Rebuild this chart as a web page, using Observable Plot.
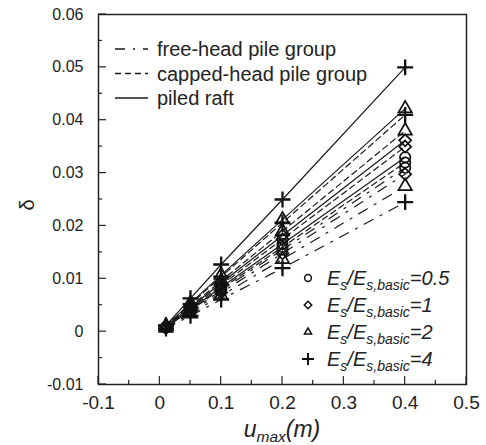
<!DOCTYPE html>
<html><head><meta charset="utf-8">
<script src="https://cdn.jsdelivr.net/npm/d3@7"></script>
<script src="https://cdn.jsdelivr.net/npm/@observablehq/plot@0.6"></script>
<style>
body{margin:0;background:#fff;}
#chart svg{font-family:"Liberation Sans",Arial,sans-serif;overflow:visible;}
</style>
</head><body><div id="chart"></div>
<script>
// ---- data ----
const umax = [0.01, 0.05, 0.1, 0.2, 0.4];
const ratios = ["0.5", "1", "2", "4"];
const groups = ["free-head pile group", "capped-head pile group", "piled raft"];

const freeHeadEs05 = [0.0008, 0.0039, 0.0078, 0.0155, 0.0310];
const freeHeadEs1  = [0.0007, 0.0037, 0.0074, 0.0148, 0.0298];
const freeHeadEs2  = [0.0007, 0.0034, 0.0068, 0.0137, 0.0275];
const freeHeadEs4  = [0.0006, 0.0030, 0.0061, 0.0120, 0.0245];

const cappedEs05 = [0.0008, 0.0040, 0.0081, 0.0160, 0.0320];
const cappedEs1  = [0.0009, 0.0044, 0.0088, 0.0175, 0.0350];
const cappedEs2  = [0.0010, 0.0048, 0.0096, 0.0190, 0.0380];
const cappedEs4  = [0.0011, 0.0052, 0.0104, 0.0206, 0.0410];

const raftEs05 = [0.0009, 0.0042, 0.0084, 0.0166, 0.0330];
const raftEs1  = [0.0010, 0.0046, 0.0092, 0.0182, 0.0362];
const raftEs2  = [0.0011, 0.0054, 0.0107, 0.0212, 0.0422];
const raftEs4  = [0.0012, 0.0063, 0.0127, 0.0250, 0.0500];

const xTicks = [-0.1, 0, 0.1, 0.2, 0.3, 0.4, 0.5];
const xMinor = [-0.05, 0.05, 0.15, 0.25, 0.35, 0.45];
const yTicks = [-0.01, 0, 0.01, 0.02, 0.03, 0.04, 0.05, 0.06];
const yMinor = [-0.005, 0.005, 0.015, 0.025, 0.035, 0.045, 0.055];

// ---- build table ----
const seriesTable = [
  [groups[0], ratios[0], freeHeadEs05], [groups[0], ratios[1], freeHeadEs1],
  [groups[0], ratios[2], freeHeadEs2],  [groups[0], ratios[3], freeHeadEs4],
  [groups[1], ratios[0], cappedEs05],   [groups[1], ratios[1], cappedEs1],
  [groups[1], ratios[2], cappedEs2],    [groups[1], ratios[3], cappedEs4],
  [groups[2], ratios[0], raftEs05],     [groups[2], ratios[1], raftEs1],
  [groups[2], ratios[2], raftEs2],      [groups[2], ratios[3], raftEs4]
];
const rows = seriesTable.flatMap(([g, r, vals]) =>
  vals.map((v, i) => ({group: g, ratio: r, series: g + "|" + r, x: umax[i], y: v})));

const dashes = {
  [groups[0]]: "10,8,2,8",
  [groups[1]]: "6,4",
  [groups[2]]: null
};
const rSize = {"0.5": 5.2, "1": 5.4, "2": 6.4, "4": 5.2};

const fmtY = d => Math.abs(d) < 1e-9 ? "0" : d3.format(".2~f")(d).replace("\u2212", "-");
const fmtX = d => Math.abs(d) < 1e-9 ? "0" : d3.format(".1~f")(d).replace("\u2212", "-");

const W = 486, H = 445;
const ML = 98, MR = 20, MT = 14, MB = 61;

const lineMarks = groups.map(g => Plot.line(rows.filter(d => d.group === g), {
  x: "x", y: "y", z: "series", stroke: "#1a1a1a", strokeWidth: 1.2,
  strokeDasharray: dashes[g]
}));

const chart = Plot.plot({
  width: W, height: H,
  marginLeft: ML, marginRight: MR, marginTop: MT, marginBottom: MB,
  style: {fontSize: "16px", fontFamily: "Liberation Sans, Arial, sans-serif", color: "#222"},
  x: {domain: [-0.1, 0.5], label: null},
  y: {domain: [-0.01, 0.06], label: null},
  symbol: {domain: ratios, range: ["circle", "diamond2", "triangle2", "plus"]},
  r: {type: "identity"},
  marks: [
    ...lineMarks,
    Plot.dot(rows.filter(d => d.ratio !== "4"), {x: "x", y: "y", symbol: "ratio", r: d => rSize[d.ratio],
      stroke: "#111", fill: "none", strokeWidth: 1.7}),
    Plot.dot(rows.filter(d => d.ratio === "4"), {x: "x", y: "y", symbol: "ratio", r: d => rSize[d.ratio],
      stroke: "#111", fill: "none", strokeWidth: 2.3}),
    Plot.axisY({ticks: yTicks, tickSize: 0, tickPadding: 15, tickFormat: fmtY, fontSize: 16}),
    Plot.axisX({ticks: xTicks, tickSize: 0, tickPadding: 11, tickFormat: fmtX, fontSize: 19}),
    Plot.frame({stroke: "#222", strokeWidth: 1.5})
  ]
});
document.getElementById("chart").appendChild(chart);

// ---- decorations: inward ticks, legends and axis titles ----
const svg = d3.select(chart);
const sx = chart.scale("x"), sy = chart.scale("y");
const left = sx.apply(-0.1), bottom = sy.apply(-0.01);
const tg = svg.append("g").attr("stroke", "#222").attr("stroke-width", 1.2);
yTicks.forEach(v => tg.append("line").attr("x1", left).attr("x2", left + 8)
  .attr("y1", sy.apply(v)).attr("y2", sy.apply(v)));
yMinor.forEach(v => tg.append("line").attr("x1", left).attr("x2", left + 4)
  .attr("y1", sy.apply(v)).attr("y2", sy.apply(v)));
xTicks.forEach(v => tg.append("line").attr("y1", bottom).attr("y2", bottom - 8)
  .attr("x1", sx.apply(v)).attr("x2", sx.apply(v)));
xMinor.forEach(v => tg.append("line").attr("y1", bottom).attr("y2", bottom - 4)
  .attr("x1", sx.apply(v)).attr("x2", sx.apply(v)));

const sym = {"0.5": d3.symbolCircle, "1": d3.symbolDiamond2, "2": d3.symbolTriangle2, "4": d3.symbolPlus};

// top-left legend (line styles)
const lg = svg.append("g").attr("text-anchor", "start");
groups.forEach((g, i) => {
  const y = 49 + i * 24.5;
  lg.append("line").attr("x1", 115).attr("x2", 148).attr("y1", y).attr("y2", y)
    .attr("stroke", "#1a1a1a").attr("stroke-width", 1.4)
    .attr("stroke-dasharray", dashes[g]);
  lg.append("text").attr("x", 157).attr("y", y).attr("dy", "0.35em")
    .attr("font-size", 20).attr("fill", "#222").text(g);
});

// bottom-right legend (symbols)
const lg2 = svg.append("g").attr("text-anchor", "start");
ratios.forEach((r, i) => {
  const y = 278 + i * 27;
  lg2.append("path").attr("transform", `translate(308,${y})`)
    .attr("d", d3.symbol(sym[r], r === "4" ? 50 : 36)())
    .attr("fill", "none").attr("stroke", "#111").attr("stroke-width", r === "4" ? 2 : 1.5);
  const t = lg2.append("text").attr("x", 327).attr("y", y).attr("dy", "0.35em")
    .attr("font-size", 20).attr("font-style", "italic").attr("fill", "#222");
  t.append("tspan").text("E");
  t.append("tspan").attr("font-size", 14).attr("dy", 5).text("s");
  t.append("tspan").attr("dy", -5).text("/E");
  t.append("tspan").attr("font-size", 14).attr("dy", 5).text("s,basic");
  t.append("tspan").attr("dy", -5).text("=" + r);
});

// x axis title
const xt = svg.append("text").attr("x", 282).attr("y", 437).attr("text-anchor", "middle")
  .attr("font-size", 23).attr("fill", "#222").attr("font-style", "italic");
xt.append("tspan").text("u");
xt.append("tspan").attr("font-size", 15.5).attr("dy", 5).text("max");
xt.append("tspan").attr("dy", -5).text("(m)");

// y axis title
svg.append("text").attr("transform", "translate(27,205) rotate(-90)")
  .attr("text-anchor", "middle").attr("dy", "0.35em").attr("font-size", 20)
  .attr("fill", "#222").text("δ");
</script>
</body></html>
